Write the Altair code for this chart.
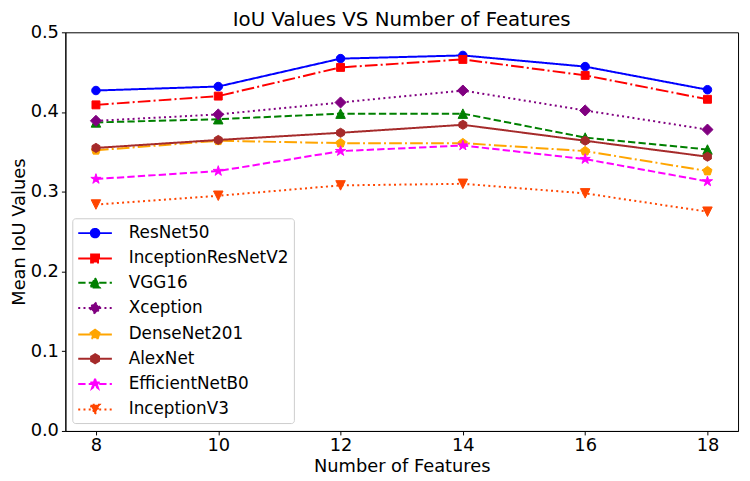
import math
import altair as alt
import pandas as pd

# ---------------- data ----------------
features = [8, 10, 12, 14, 16, 18]
models = ["ResNet50", "InceptionResNetV2", "VGG16", "Xception",
          "DenseNet201", "AlexNet", "EfficientNetB0", "InceptionV3"]
resnet50 = [0.427, 0.432, 0.467, 0.471, 0.457, 0.428]
inception_resnet_v2 = [0.409, 0.420, 0.456, 0.466, 0.446, 0.416]
vgg16 = [0.387, 0.391, 0.398, 0.398, 0.368, 0.353]
xception = [0.389, 0.397, 0.412, 0.427, 0.402, 0.378]
densenet201 = [0.352, 0.364, 0.361, 0.361, 0.351, 0.326]
alexnet = [0.355, 0.365, 0.374, 0.384, 0.364, 0.344]
efficientnet_b0 = [0.316, 0.326, 0.351, 0.358, 0.341, 0.313]
inception_v3 = [0.284, 0.295, 0.308, 0.310, 0.298, 0.275]
series = [resnet50, inception_resnet_v2, vgg16, xception,
          densenet201, alexnet, efficientnet_b0, inception_v3]
y_ticks = [0.0, 0.1, 0.2, 0.3, 0.4, 0.5]

# ---------------- styles ----------------
colors = ["#0000ff", "#ff0000", "#008000", "#800080",
          "#ffa500", "#a52a2a", "#ff00ff", "#ff4500"]
dash_dot = [12.8, 3.2, 2, 3.2]
dashed = [7.4, 3.2]
dotted = [2, 3.3]
solid = [1, 0]
dashes = [solid, dash_dot, dashed, dotted, dash_dot, solid, dashed, dotted]


def poly(n, start_deg):
    return [(math.cos(math.radians(start_deg + 360 * k / n)),
             math.sin(math.radians(start_deg + 360 * k / n))) for k in range(n)]


def star_pts():
    pts = []
    for k in range(10):
        r = 1.0 if k % 2 == 0 else 0.382
        a = math.radians(-90 + 36 * k)
        pts.append((r * math.cos(a), r * math.sin(a)))
    return pts


marker_defs = [
    ("circle", None, 4.3),
    ("poly", [(-1, -1), (1, -1), (1, 1), (-1, 1)], 4.0),
    ("poly", [(0, -1), (1, 1), (-1, 1)], 4.8),
    ("poly", [(0, -1), (1, 0), (0, 1), (-1, 0)], 5.6),
    ("poly", poly(5, -90), 4.8),
    ("poly", poly(6, -90), 4.6),
    ("poly", star_pts(), 5.4),
    ("poly", [(0, 1), (1, -1), (-1, -1)], 4.8),
]


def f(v):
    return f"{v:.3f}"


def marker_path(kind, pts, half, unit, cx=0.0):
    r = half / unit
    if kind == "circle":
        return (f"M{f(cx + r)},0A{f(r)},{f(r)},0,1,1,{f(cx - r)},0"
                f"A{f(r)},{f(r)},0,1,1,{f(cx + r)},0Z")
    return "M" + "L".join(f"{f(cx + x * r)},{f(y * r)}" for x, y in pts) + "Z"


# chart markers: size 400 -> 10 px per path unit
chart_paths = [marker_path(k, p, h, 10.0) for k, p, h in marker_defs]
# legend symbols: size 324 -> 9 px per path unit, line + marker
LEG_UNIT = 9.0
line_l, line_r = -1.0, 2.78
mid = (line_l + line_r) / 2
legend_paths = [f"M{f(line_l)},0H{f(line_r)}" + marker_path(k, p, h, LEG_UNIT, mid)
                for k, p, h in marker_defs]

# ---------------- table ----------------
rows = []
for m, vals in zip(models, series):
    for x, v in zip(features, vals):
        rows.append({"Features": x, "Model": m, "IoU": v})
df = pd.DataFrame(rows)

font = "DejaVu Sans"

base = alt.Chart(df).encode(
    x=alt.X("Features:Q",
            scale=alt.Scale(domain=[7.5, 18.5], nice=False, zero=False),
            axis=alt.Axis(values=features, format="d", title="Number of Features")),
    y=alt.Y("IoU:Q",
            scale=alt.Scale(domain=[0, 0.5], nice=False, zero=True),
            axis=alt.Axis(values=y_ticks, format=".1f", title="Mean IoU Values")),
)

layers = []
for i, m in enumerate(models):
    sub = base.transform_filter(alt.datum.Model == m)
    layers.append(sub.mark_line(color=colors[i], strokeWidth=2, strokeDash=dashes[i]))
    layers.append(sub.mark_point(shape=chart_paths[i], size=400, filled=True,
                                 color=colors[i], stroke=colors[i], strokeWidth=1,
                                 opacity=1))

leg = alt.Legend(orient="none", legendX=7, legendY=188, padding=5, rowPadding=6.6,
                 symbolSize=324, symbolStrokeWidth=2, labelOffset=32,
                 labelFontSize=17, labelFont=font, labelColor="black",
                 strokeColor="#cccccc", fillColor="white", cornerRadius=3,
                 labelLimit=400, symbolOpacity=1)

legend_layer = base.transform_filter("false").mark_point(
    filled=True, opacity=1, size=324, strokeWidth=2
).encode(
    color=alt.Color("Model:N", scale=alt.Scale(domain=models, range=colors),
                    legend=leg, title=None),
    stroke=alt.Stroke("Model:N", scale=alt.Scale(domain=models, range=colors),
                      legend=leg, title=None),
    shape=alt.Shape("Model:N", scale=alt.Scale(domain=models, range=legend_paths),
                    legend=leg, title=None),
    strokeDash=alt.StrokeDash("Model:N", scale=alt.Scale(domain=models, range=dashes),
                              legend=leg, title=None),
)
layers.append(legend_layer)

chart = alt.layer(*layers).properties(
    width=680, height=403,
    padding={"left": 58, "top": 22, "right": 4, "bottom": 48},
    autosize=alt.AutoSizeParams(type="none"),
    title=alt.Title("IoU Values VS Number of Features", fontSize=20, font=font,
                    fontWeight="normal", color="black", offset=0, dy=27,
                    baseline="bottom", frame="group", anchor="middle"),
    background="white",
).configure_view(
    stroke="black", strokeWidth=1
).configure_axis(
    labelFont=font, labelFontSize=18, labelColor="black",
    titleFont=font, titleFontSize=18, titleFontWeight="normal", titleColor="black",
    domainColor="black", domainWidth=1, tickColor="black", tickWidth=1,
    tickSize=4, grid=False,
).configure_axisX(
    labelPadding=2, titlePadding=3
).configure_axisY(
    labelPadding=3, titlePadding=2
)

chart.save("out.html", embed_options={"renderer": "svg", "actions": False})
